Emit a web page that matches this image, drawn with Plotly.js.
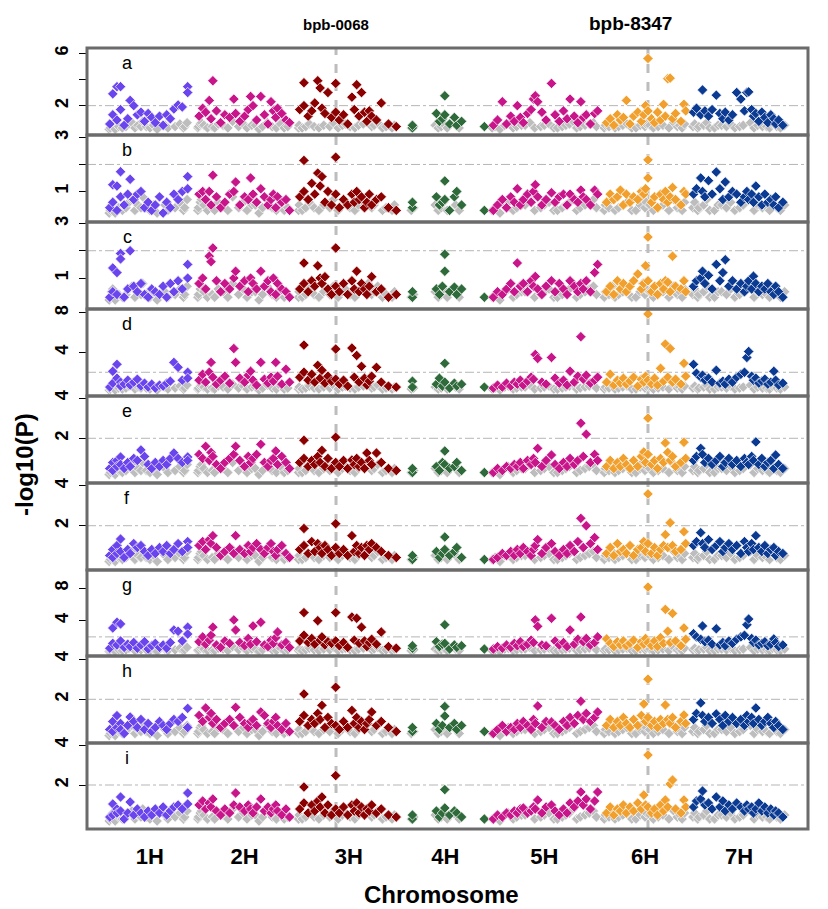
<!DOCTYPE html>
<html>
<head>
<meta charset="utf-8">
<script src="https://cdn.plot.ly/plotly-3.0.1.min.js"></script>
<style>html,body{margin:0;padding:0;background:#fff;}#chart{width:828px;height:909px;}</style>
</head>
<body>
<div id="chart"></div>
<script>
// ---------------- DATA ----------------
const chromNames = ['1H','2H','3H','4H','5H','6H','7H'];
const chromLen = [140, 160, 172, 134, 180, 140, 158];   // cM
const chromGap = 8;                                      // cM between chromosomes

const pos1H = [3,8,8,15,15,21,21,27,33,37,43,49,55,61,67,73,79,86,92,98,104,110,117,124,133,133];
const pos2H = [4,10,15,21,24,27,33,40,47,55,62,65,72,80,86,90,94,100,107,113,119,124,128,132,135,142,149,155];
const pos3H = [4,11,11,18,24,29,34,38,41,46,51,57,64,64,70,77,84,91,95,99,103,107,112,116,120,124,132,140,152,165];
const pos4H = [12,12,52,57,62,66,66,74,82,86,94,132];
const pos5H = [5,12,20,27,34,40,45,50,55,62,68,72,75,79,86,93,102,108,115,122,128,133,140,146,151,155,160,167,174,179];
const pos6H = [6,12,18,24,29,34,39,45,51,58,64,68,71,75,75,81,86,91,96,101,104,108,112,116,121,130,135,138];
const pos7H = [3,8,15,18,22,28,34,41,47,52,56,62,68,75,82,88,92,95,100,103,107,112,117,122,127,132,137,140,145,152];

// -log10(P) per trait, per chromosome (1H..7H)
const traitA = [
 [0.6,2.9,1.3,3.45,0.9,3.45,1.7,0.5,1.0,2.4,2.0,1.3,1.5,0.8,1.4,1.1,0.7,1.2,0.5,1.3,1.0,1.75,2.05,1.9,3.45,3.0],
 [1.2,1.8,1.5,2.4,1.0,3.9,1.6,0.7,1.3,1.1,2.5,1.4,0.8,1.2,1.7,2.7,2.0,0.9,2.7,1.3,0.6,2.3,1.6,1.1,1.8,1.4,0.9,0.7],
 [1.7,3.75,2.0,1.2,1.6,2.2,3.9,3.35,1.8,1.4,3.0,1.1,3.7,1.5,0.9,1.3,0.6,2.65,1.7,3.6,1.2,3.0,1.5,0.8,1.6,1.2,0.9,2.2,0.6,0.4],
 [0.3,0.5,1.4,0.8,1.0,2.75,1.3,0.6,1.1,0.5,0.8,0.4],
 [0.5,0.9,2.3,0.6,1.2,0.8,2.0,1.1,0.7,1.4,1.7,2.5,2.75,2.3,1.5,0.9,3.7,1.3,0.8,1.6,1.0,2.5,1.2,0.7,2.3,1.1,1.3,0.6,1.4,1.6],
 [0.7,1.0,0.5,1.3,0.9,1.1,2.4,0.6,1.2,1.5,0.8,1.3,2.0,5.6,1.6,1.0,0.7,1.5,0.9,2.1,1.2,4.05,4.1,1.0,1.4,0.8,2.1,1.6],
 [1.5,1.8,1.3,3.2,1.6,1.2,1.7,2.8,1.4,1.0,1.5,0.9,1.3,3.0,2.5,1.6,3.0,3.05,1.7,1.2,1.4,0.8,1.5,1.1,0.7,1.3,1.0,0.6,0.9,0.5]
];
const traitB = [
 [0.4,1.25,0.6,1.2,0.3,1.73,0.8,0.5,0.9,1.45,0.7,0.9,1.0,0.4,0.6,0.3,0.5,0.8,0.2,0.6,0.4,0.9,0.7,1.0,1.55,1.1],
 [0.9,1.0,0.7,1.0,0.5,1.6,0.8,0.4,0.6,0.9,1.0,1.35,0.5,0.8,0.7,1.5,0.9,0.6,1.1,0.8,0.5,0.7,0.9,0.4,0.8,0.6,0.7,0.3],
 [0.8,2.15,1.0,0.7,1.3,0.9,1.68,1.2,1.55,0.6,1.0,0.5,2.27,0.9,0.4,0.7,0.5,0.9,0.6,1.0,0.7,0.8,0.4,0.6,0.9,0.5,0.7,0.8,0.4,0.3],
 [0.4,0.6,0.8,0.5,0.6,1.39,0.7,0.3,0.8,1.0,0.5,0.3],
 [0.3,0.5,0.7,0.4,0.8,0.6,1.1,0.5,0.7,0.9,0.6,1.0,1.25,0.8,0.5,0.7,0.95,0.6,0.8,0.9,0.5,0.9,0.7,0.6,1.05,0.8,0.7,0.5,1.05,0.9],
 [0.6,0.9,0.7,0.8,1.05,0.5,0.9,0.6,0.8,0.7,1.0,0.9,1.1,2.17,1.5,0.6,0.8,0.4,0.9,0.7,1.0,0.6,0.8,1.15,0.7,0.5,1.0,0.9],
 [0.9,1.1,1.5,1.0,0.8,1.4,0.9,1.72,1.1,0.7,1.35,0.8,1.0,0.9,0.6,0.8,1.0,0.7,0.9,0.6,1.2,0.8,0.5,0.9,0.6,0.7,0.5,0.8,0.4,0.6]
];
const traitC = [
 [0.3,1.37,0.5,1.2,0.4,1.9,1.7,0.3,0.6,2.0,0.7,0.5,0.8,0.4,0.3,0.6,0.5,0.4,0.7,0.3,0.8,0.5,0.9,0.6,1.5,1.0],
 [0.8,1.0,0.6,1.8,1.6,2.1,0.9,0.5,0.8,0.6,1.0,1.25,0.7,0.9,0.5,1.0,0.8,0.6,1.25,0.7,0.9,0.5,1.0,0.4,0.8,0.6,0.5,0.3],
 [0.6,1.55,0.8,0.5,0.9,0.7,1.45,1.0,0.8,1.05,0.6,0.4,2.1,0.7,0.5,0.8,0.4,0.9,0.6,1.25,0.5,0.8,0.6,0.4,0.7,1.05,0.5,0.6,0.3,0.4],
 [0.3,0.5,0.6,0.4,0.7,1.87,1.25,0.5,0.67,0.4,0.6,0.3],
 [0.3,0.5,0.4,0.6,0.8,0.5,1.55,0.7,0.8,0.5,0.9,0.7,1.06,0.6,0.4,0.7,0.9,0.5,0.8,0.6,0.4,0.9,0.7,0.5,0.8,0.6,0.9,0.5,1.2,1.5],
 [0.5,0.7,0.4,0.9,0.6,0.8,0.5,0.7,0.9,1.15,0.6,0.8,1.45,2.5,0.9,0.5,0.7,0.4,0.8,0.6,0.9,0.85,0.5,1.8,0.7,0.6,0.9,0.5],
 [0.7,0.9,1.0,1.25,0.8,1.1,0.6,1.5,0.9,1.2,1.67,0.7,0.9,0.6,0.8,0.5,0.7,0.9,0.6,1.07,0.8,0.5,0.7,0.6,0.8,0.5,0.4,0.7,0.5,0.3]
];
const traitD = [
 [0.5,2.1,0.9,2.8,1.4,1.0,0.6,0.8,1.2,0.7,1.0,1.3,0.6,0.9,0.5,0.8,0.4,0.7,0.6,0.9,1.1,3.0,2.5,1.2,2.0,1.4],
 [1.2,1.8,1.0,2.0,3.0,1.5,0.8,1.2,1.6,0.9,4.4,3.0,1.4,1.0,1.7,2.1,1.2,0.7,3.0,1.3,0.9,1.5,1.1,3.0,1.6,0.8,2.3,1.0],
 [1.5,4.75,2.0,1.2,1.8,1.0,2.7,1.4,2.2,0.9,1.6,1.1,4.35,1.3,0.8,1.2,0.6,4.45,1.5,3.7,1.0,2.6,1.4,0.7,1.1,1.6,2.5,1.0,0.6,0.5],
 [1.1,0.5,0.8,1.4,0.6,2.9,1.0,0.4,0.9,0.6,0.8,0.5],
 [0.4,0.7,0.5,0.9,0.6,1.0,0.8,1.2,0.7,1.1,1.5,1.3,3.8,3.4,1.0,0.8,3.5,1.4,0.9,1.2,0.7,2.1,1.0,1.6,5.6,1.3,1.7,0.9,1.2,1.5],
 [1.0,1.8,0.7,1.2,0.9,1.4,0.8,1.1,1.5,0.6,1.3,1.0,1.6,7.9,1.2,0.8,1.4,0.7,2.4,1.1,4.85,1.5,4.4,1.0,1.3,0.8,2.9,1.6],
 [2.8,1.9,1.5,1.7,1.2,1.4,1.0,2.2,0.9,1.1,0.8,1.3,1.0,1.5,1.8,2.0,3.5,4.1,1.6,1.2,1.4,0.9,1.1,1.3,0.8,1.0,2.1,1.2,0.7,0.9]
];
const traitE = [
 [0.5,0.8,0.4,0.9,0.6,1.07,0.7,0.5,0.8,0.6,1.0,0.9,1.42,1.1,0.7,0.5,0.8,0.6,0.9,0.7,1.0,1.27,1.0,0.8,1.07,0.9],
 [1.2,1.0,1.6,0.9,1.3,1.1,0.7,0.5,0.8,1.0,1.2,1.6,0.9,0.6,1.1,0.8,1.0,1.2,1.7,0.8,0.6,0.9,1.0,1.37,0.7,1.1,0.8,0.5],
 [0.8,1.9,1.0,0.6,0.9,0.7,1.1,0.8,1.4,0.6,1.0,0.5,2.05,0.8,0.6,0.9,0.5,0.92,0.7,1.0,0.6,0.8,0.5,1.27,0.9,0.7,1.27,0.8,0.5,0.4],
 [0.3,0.5,0.6,0.4,0.8,1.37,0.7,0.5,0.6,0.8,0.4,0.3],
 [0.3,0.5,0.4,0.6,0.5,0.7,0.6,0.8,0.5,0.9,0.7,1.0,0.8,1.5,0.6,0.9,1.17,0.7,0.5,0.8,0.6,1.0,0.7,0.9,2.75,1.1,2.2,0.8,1.2,0.9],
 [0.6,0.9,0.5,0.8,0.6,1.0,0.7,0.5,0.9,0.6,1.1,1.32,0.8,3.0,1.2,0.7,0.9,0.5,1.0,0.8,1.77,1.3,0.9,1.1,0.6,0.8,1.8,1.0],
 [0.9,1.1,1.5,1.2,0.8,1.0,0.7,0.9,1.1,0.6,0.8,1.0,0.7,0.9,0.6,1.0,0.8,0.7,1.1,0.9,1.82,0.7,1.0,0.6,0.8,0.9,0.5,1.17,0.7,0.5]
];
const traitF = [
 [0.5,0.8,0.4,1.0,0.6,1.33,0.7,0.4,0.8,0.6,1.1,0.9,1.0,0.7,0.5,0.8,0.6,0.9,0.7,1.0,0.6,0.8,1.1,0.7,1.2,0.9],
 [1.0,1.2,0.8,1.3,1.1,1.5,0.9,0.5,0.7,0.9,0.6,1.5,0.8,0.6,1.0,0.7,0.9,1.1,0.8,0.6,0.9,1.1,0.7,0.5,0.8,1.0,0.6,0.4],
 [0.8,1.86,1.0,0.6,1.2,0.7,1.1,0.9,0.6,1.0,0.8,0.5,2.1,0.9,0.6,0.8,0.5,1.5,0.7,1.0,0.6,0.9,0.5,1.0,0.8,1.1,0.9,0.7,0.5,0.4],
 [0.3,0.5,0.7,0.4,0.6,1.43,0.8,0.5,0.7,0.9,0.4,0.3],
 [0.3,0.4,0.6,0.5,0.7,0.5,0.8,0.6,0.9,0.7,0.5,0.8,1.0,1.3,0.6,0.9,1.1,0.7,0.5,0.8,0.6,1.0,0.7,1.2,2.37,0.9,2.0,1.1,1.4,0.8],
 [0.6,0.9,0.5,1.1,0.7,0.8,0.6,1.0,0.5,0.8,0.9,1.2,0.7,3.6,1.1,0.6,0.9,0.5,0.8,1.0,1.55,0.9,2.15,1.0,0.7,0.8,1.7,1.1],
 [1.0,1.2,1.65,1.1,0.9,1.3,0.8,1.0,1.2,0.7,0.9,1.1,0.8,1.0,0.6,1.2,0.9,0.7,1.1,0.8,1.5,0.9,0.7,1.0,0.6,0.8,0.9,0.5,0.7,0.6]
];
const traitG = [
 [0.6,3.1,1.2,3.8,1.0,3.6,1.5,0.7,1.1,0.8,1.3,0.6,1.0,1.4,0.5,0.9,1.2,0.7,1.0,0.6,1.3,2.85,2.7,1.5,3.2,2.35],
 [1.4,2.0,1.1,1.6,2.2,3.2,1.0,0.7,1.5,1.2,4.1,2.85,1.3,0.9,1.8,1.1,3.35,1.4,3.8,1.0,0.8,1.6,1.2,1.9,2.6,1.0,1.3,0.7],
 [1.5,5.0,2.2,1.3,1.8,1.1,4.0,1.6,2.0,1.0,1.4,1.2,5.0,1.5,0.9,1.3,0.7,4.45,1.6,4.3,1.2,3.2,1.5,0.8,1.3,1.7,1.1,2.6,0.8,0.6],
 [0.6,0.9,1.4,0.8,1.1,3.5,1.2,0.5,1.0,0.7,0.9,0.5],
 [0.5,0.8,0.6,1.0,0.7,1.2,0.9,1.4,0.8,1.1,1.6,1.3,4.1,3.3,1.0,0.9,4.3,1.5,1.0,1.3,0.8,2.85,1.1,1.7,4.45,1.4,1.8,1.0,1.3,2.0],
 [1.75,1.2,0.8,1.4,1.0,1.5,0.9,1.2,1.6,0.7,1.4,1.1,1.8,8.15,1.3,0.9,1.5,0.8,1.9,1.2,5.4,2.7,1.3,4.9,1.5,0.9,3.1,1.7],
 [2.4,2.0,1.7,3.35,1.4,1.6,1.1,3.0,1.0,1.3,0.9,1.5,1.2,1.7,2.0,2.2,3.5,4.2,1.8,1.3,1.6,1.0,1.2,1.4,0.9,1.1,1.75,1.3,0.8,1.0]
];
const traitH = [
 [0.5,0.9,0.4,1.19,0.6,0.8,0.5,0.3,0.7,1.12,0.9,0.6,1.0,0.5,0.8,0.4,0.6,0.9,0.7,0.5,0.8,1.0,0.9,1.1,1.55,0.6],
 [1.2,0.9,1.57,1.1,1.3,0.8,1.0,0.6,0.8,1.0,0.7,1.6,1.1,0.8,0.6,0.9,1.0,0.7,1.37,1.2,0.8,0.6,0.9,1.1,0.7,0.5,0.8,0.4],
 [0.9,2.26,1.2,0.7,1.0,0.8,1.3,1.0,1.7,0.6,1.1,0.8,2.6,0.7,0.5,0.9,0.6,1.45,0.8,1.1,0.6,0.9,0.5,0.8,1.0,1.37,0.7,0.9,0.6,0.4],
 [0.4,0.6,0.8,0.5,0.7,1.64,1.17,0.6,0.8,0.5,0.7,0.4],
 [0.3,0.5,0.7,0.4,0.6,0.5,0.8,0.6,0.9,0.7,0.5,1.0,0.8,1.67,0.6,0.9,0.87,0.7,0.5,0.9,0.7,1.1,0.8,1.2,1.9,1.0,1.3,0.9,1.1,1.37],
 [0.7,1.0,0.6,0.9,0.7,1.1,0.8,0.6,1.0,0.7,1.2,1.77,0.9,3.0,1.1,0.7,0.9,0.6,1.0,0.8,1.72,1.0,0.8,1.1,0.6,0.9,1.22,0.8],
 [1.0,1.3,1.82,1.2,0.9,1.1,0.8,1.27,1.0,0.7,1.2,0.9,1.1,0.8,1.0,0.7,1.2,0.9,1.1,0.8,1.57,1.0,0.7,0.9,1.1,0.8,0.6,0.9,0.7,0.5]
];
const traitI = [
 [0.4,1.05,0.5,0.8,0.6,1.4,0.7,0.3,0.6,1.15,0.5,0.8,0.6,0.4,0.7,0.5,0.8,0.6,0.9,0.5,0.7,0.9,1.0,0.8,1.6,1.05],
 [1.0,1.2,0.8,1.1,0.9,1.3,0.7,0.5,0.8,0.6,1.0,1.6,0.9,0.7,1.0,0.8,0.6,0.9,1.3,0.7,0.9,0.6,0.8,1.0,0.7,0.5,0.8,0.4],
 [0.8,1.9,1.1,0.6,1.0,0.7,1.2,0.9,1.4,0.6,1.0,0.5,2.47,0.8,0.6,0.9,0.5,1.0,0.7,1.1,0.6,0.9,0.5,0.8,0.7,1.0,0.6,0.8,0.5,0.4],
 [0.3,0.5,0.7,0.4,0.6,1.77,0.85,0.5,0.7,0.6,0.4,0.3],
 [0.3,0.5,0.4,0.6,0.5,0.7,0.6,0.8,0.85,0.6,0.7,0.9,0.8,1.25,0.6,0.9,1.0,0.7,0.5,0.8,0.6,1.1,0.9,1.2,1.65,1.0,1.3,0.8,1.2,1.65],
 [0.6,0.9,0.5,0.8,0.7,1.0,0.6,0.9,0.7,1.1,0.8,1.5,1.0,3.5,0.9,0.6,0.8,0.5,1.0,0.7,1.25,0.9,2.05,2.25,0.8,0.6,1.25,0.9],
 [0.9,1.2,1.3,1.7,1.0,1.1,0.8,1.4,0.9,1.2,0.7,1.0,0.8,1.1,0.9,0.7,1.0,0.8,0.9,0.6,0.8,1.1,0.7,0.9,0.6,0.8,0.5,0.7,0.6,0.4]
];

// background (grey) SNP set, per chromosome
const grayPos = [
 [2,4,6,8,10,12,18,24,30,35,40,45,50,55,58,64,70,76,82,95,100,112,120,126,128,132],
 [2,3,6,8,12,18,26,30,36,44,52,60,70,78,84,92,98,104,110,118,126,133,140,146,152],
 [2,3,8,14,20,28,36,44,54,60,68,75,80,88,96,102,110,118,124,128,134,142,148,158,162],
 [10,14,50,55,60,64,70,84,90],
 [3,8,16,24,30,38,44,52,58,66,74,84,90,98,106,112,120,126,132,138,144,150,158,165,172,177],
 [2,4,10,15,20,26,33,40,48,55,62,66,70,72,78,84,92,100,110,118,124,128,132,136],
 [2,5,10,12,20,25,30,38,44,50,58,65,72,80,86,98,104,110,118,125,130,135,142,148,155]
];
const grayVals = [
 [0.2,0.3,0.5,0.6,0.3,0.2,0.4,0.3,0.4,0.6,0.7,0.3,0.5,0.4,0.8,0.4,0.3,0.5,0.2,0.5,0.3,0.4,0.6,0.3,0.4,0.7],
 [0.3,0.4,0.6,0.7,0.5,0.3,0.4,0.3,0.6,0.5,0.3,0.8,0.4,0.6,0.3,0.5,0.5,0.2,0.4,0.7,0.4,0.3,0.6,0.3,0.4],
 [0.3,0.5,0.3,0.4,0.6,0.4,0.3,0.5,0.4,0.7,0.3,0.5,0.6,0.4,0.3,0.5,0.6,0.8,0.4,0.5,0.7,0.3,0.4,0.3,0.5],
 [0.3,0.4,0.5,0.3,0.4,0.6,0.3,0.5,0.3],
 [0.3,0.4,0.2,0.5,0.6,0.3,0.4,0.5,0.5,0.7,0.3,0.4,0.5,0.6,0.3,0.3,0.4,0.5,0.6,0.8,0.3,0.4,0.5,0.6,0.7,0.4],
 [0.3,0.5,0.4,0.7,0.3,0.4,0.5,0.6,0.3,0.3,0.5,0.8,0.4,0.6,0.5,0.3,0.4,0.5,0.3,0.7,0.4,0.5,0.3,0.6],
 [0.4,0.6,0.3,0.4,0.5,0.7,0.3,0.3,0.5,0.5,0.4,0.6,0.3,0.4,0.5,0.7,0.3,0.5,0.4,0.4,0.3,0.6,0.4,0.3,0.5]
];

const traitLabels = ['a','b','c','d','e','f','g','h','i'];
const markerNames = ['bpb-0068','bpb-8347'];
const markerChrom = ['3H','6H'];
const markerPos = [64.5, 75];   // cM

// y-axis ticks per panel
const yTickVals = [[2,4,6],[1,2,3],[1,2,3],[4,8],[2,4],[2,4],[4,8],[2,4],[2,4]];
const yTickText = [['2','','6'],['1','','3'],['1','','3'],['4','8'],['2','4'],['2','4'],['4','8'],['2','4'],['2','4']];
const threshold = 2;

// ---------------- STYLE / LAYOUT ----------------
const chromColors = ['#6a45ee','#c8158a','#8b0000','#2f6a3a','#c8158a','#f2a02d','#0b3a92'];
const grayColor = '#bdbdbd';
const FONT = 'Liberation Sans, Arial, sans-serif';
const yRanges = [[-0.24,6.4],[-0.13,3.09],[-0.13,3.05],[-0.4,8.4],[-0.22,4.1],[-0.23,4.15],[-0.36,10.26],[-0.17,4.15],[-0.2,4.1]];
const traits = [traitA,traitB,traitC,traitD,traitE,traitF,traitG,traitH,traitI];
const snpPos = [pos1H,pos2H,pos3H,pos4H,pos5H,pos6H,pos7H];

const W = 828, H = 909;
const M = {l:87, r:20, t:48, b:80};
const plotH = H - M.t - M.b;
const edges = [48,135,222,309,396,483,570,656,743,829];
const py = v => (H - M.b - v) / plotH;
const px = v => (v - M.l) / (W - M.l - M.r);

const offsets = [];
let acc = 0;
chromLen.forEach((L,i)=>{ offsets.push(acc); acc += L + chromGap; });
const xRange = [-35, offsets[6] + chromLen[6] + 36];
const chromCenters = offsets.map((o,i)=>o + chromLen[i]/2);

const MSIZE = 8;
const data = [];
const layout = {
  width: W, height: H, margin: M, showlegend: false,
  paper_bgcolor: '#fff', plot_bgcolor: '#fff',
  font: {family: FONT, color: '#000'},
  xaxis: {
    domain: [0,1], range: xRange, anchor: 'y9',
    tickvals: chromCenters, ticktext: chromNames,
    ticks: '', showgrid: false, zeroline: false, showline: false,
    tickfont: {family: FONT, size: 22, color: '#000', weight: 'bold'},
    ticklabelstandoff: 12, fixedrange: true
  },
  shapes: [], annotations: []
};

traits.forEach((tr, p) => {
  const ya = p === 0 ? 'y' : 'y' + (p+1);
  const key = p === 0 ? 'yaxis' : 'yaxis' + (p+1);
  // gray background
  let gx = [], gy = [];
  grayPos.forEach((arr,c)=>arr.forEach((v,k)=>{ gx.push(offsets[c]+v); gy.push(grayVals[c][k]); }));
  data.push({type:'scatter', mode:'markers', x: gx, y: gy, xaxis:'x', yaxis: ya,
    marker:{symbol:'diamond', size:MSIZE, color: grayColor, line:{color:'#ffffff', width:0.7}}, hoverinfo:'skip'});
  tr.forEach((vals, c) => {
    data.push({type:'scatter', mode:'markers',
      x: snpPos[c].map(v => offsets[c] + v), y: vals, xaxis:'x', yaxis: ya,
      marker:{symbol:'diamond', size:MSIZE, color: chromColors[c], line:{color:'#ffffff', width:0.7}},
      name: chromNames[c]});
  });
  layout[key] = {
    domain: [py(edges[p+1]), py(edges[p])], range: yRanges[p], anchor: 'x',
    tickvals: yTickVals[p], ticktext: yTickText[p], tickangle: -90,
    ticks: 'outside', ticklen: 7, tickwidth: 1, tickcolor: '#000',
    showgrid: false, zeroline: false, showline: false, fixedrange: true,
    tickfont: {family: FONT, size: 18, color: '#000', weight: 'bold'},
    ticklabelstandoff: 4
  };
  // threshold line
  layout.shapes.push({type:'line', layer:'below', xref:'paper', x0:0, x1:1, yref: ya, y0: threshold, y1: threshold,
    line:{color:'#b5b5b5', width:1, dash:'dashdot'}});
  // frame
  layout.shapes.push({type:'rect', layer:'above', xref:'paper', x0:0, x1:1, yref:'paper',
    y0: py(edges[p+1]), y1: py(edges[p]), line:{color:'#6b6b6b', width:3}});
  // panel letter
  layout.annotations.push({text: traitLabels[p], xref:'paper', yref:'paper', x: px(127), y: py(edges[p]+15),
    showarrow:false, xanchor:'center', yanchor:'middle', font:{family:FONT, size:18, color:'#000'}});
});

// marker lines and names
markerNames.forEach((nm, k) => {
  const c = chromNames.indexOf(markerChrom[k]);
  const xv = offsets[c] + markerPos[k];
  layout.shapes.push({type:'line', layer:'below', xref:'x', x0:xv, x1:xv, yref:'paper', y0:0, y1:1,
    line:{color:'#bdbdbd', width:3, dash:'dash'}});
  layout.annotations.push({text: nm, xref:'x', yref:'paper', x: xv, y: py(k===0 ? 25 : 24),
    xshift: k===0 ? 0 : -17, showarrow:false, xanchor:'center', yanchor:'middle',
    font:{family:FONT, size: k===0 ? 15 : 19, color:'#000', weight:'bold'}});
});

// axis titles
layout.annotations.push({text:'-log10(P)', xref:'paper', yref:'paper', x: px(24), y: py(465), textangle:-90,
  showarrow:false, xanchor:'center', yanchor:'middle', font:{family:FONT, size:24, color:'#000', weight:'bold'}});
layout.annotations.push({text:'Chromosome', xref:'paper', yref:'paper', x: px(441), y: py(894),
  showarrow:false, xanchor:'center', yanchor:'middle', font:{family:FONT, size:24, color:'#000', weight:'bold'}});

Plotly.newPlot('chart', data, layout, {staticPlot:true, displayModeBar:false});
</script>
</body>
</html>
